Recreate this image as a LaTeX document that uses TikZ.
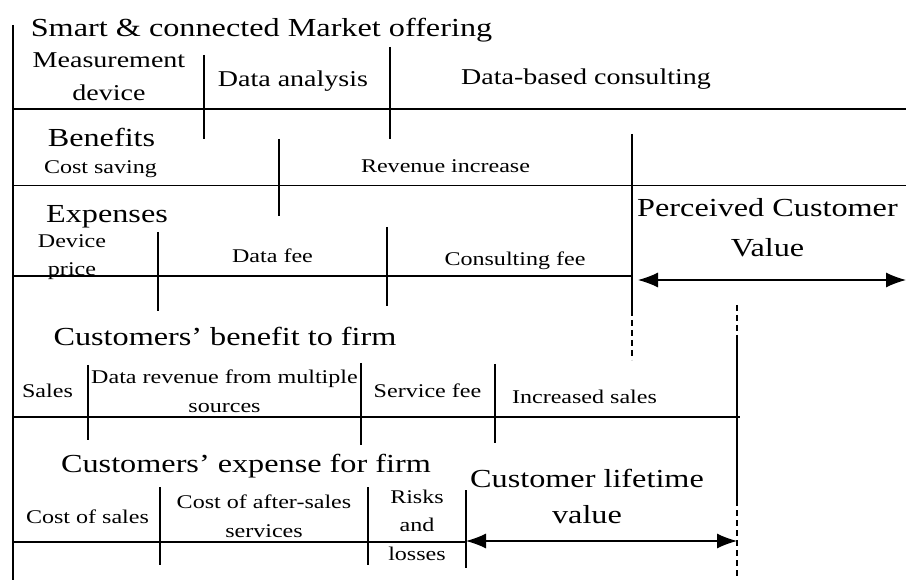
\documentclass[tikz,border=0pt]{standalone}
\usepackage{fontspec}
\setmainfont{Liberation Serif}[FakeStretch=1.24]
\usepackage{tikz}
\usetikzlibrary{arrows.meta}

\tikzset{
	bigtxt/.style={font=\fontsize{26}{36}\selectfont, inner sep=0, anchor=base, align=center},
	midtxt/.style={font=\fontsize{22.6}{33}\selectfont, inner sep=0, anchor=base, align=center},
	smalltxt/.style={font=\fontsize{19.4}{28.5}\selectfont, inner sep=0, anchor=base, align=center},
	dsh/.style={dash pattern=on 6pt off 4pt},
	dblarrow/.style={{Latex[length=20pt,width=15pt]}-{Latex[length=20pt,width=15pt]}}
}

\begin{document}
\begin{tikzpicture}[x=10pt, y=-10pt, line width=1.2pt]

	\useasboundingbox (0,0) rectangle (90.6,58);

	% frame
	\draw (1.3,2.5) -- (1.3,58);
	\draw (1.3,10.9) -- (90.6,10.9);
	\draw (1.3,18.55) -- (90.6,18.55);
	\draw (1.3,27.6) -- (63.2,27.6);
	\draw (1.3,41.7) -- (74,41.7);
	\draw (1.3,54.2) -- (46.6,54.2);

	% dividers
	\draw (20.4,5.5) -- (20.4,13.9);
	\draw (39,4.7) -- (39,13.9);
	\draw (27.9,13.9) -- (27.9,21.6);
	\draw (15.8,23.2) -- (15.8,31.1);
	\draw (38.7,22.7) -- (38.7,30.6);
	\draw (8.8,36.5) -- (8.8,44);
	\draw (36.1,36.3) -- (36.1,44.5);
	\draw (49.5,36.4) -- (49.5,44.3);
	\draw (16,48.7) -- (16,56.5);
	\draw (36.8,48.7) -- (36.8,56.5);
	\draw (46.6,49) -- (46.6,56.8);

	\draw (63.2,13.4) -- (63.2,31);
	\draw[dsh] (63.2,31) -- (63.2,36);
	\draw[dsh] (73.7,30.5) -- (73.7,34);
	\draw (73.7,34) -- (73.7,50);
	\draw[dsh] (73.7,50) -- (73.7,58);

	% texts (multi-line ones sit on their last baseline)
	\node[bigtxt] (offer) at (26.15,3.7) {Smart \& connected Market offering};
	\node[midtxt] (device) at (10.9,10.1) {Measurement\\device};
	\node[midtxt] (analysis) at (29.3,8.7) {Data analysis};
	\node[midtxt] (consult) at (58.6,8.5) {Data-based consulting};

	\node[bigtxt] (benefits) at (10.15,14.7) {Benefits};
	\node[smalltxt] (saving) at (10.05,17.4) {Cost saving};
	\node[smalltxt] (revenue) at (44.55,17.3) {Revenue increase};

	\node[bigtxt] (expenses) at (10.7,22.3) {Expenses};
	\node[smalltxt] (price) at (7.2,27.6) {Device\\price};
	\node[smalltxt] (datafee) at (27.25,26.3) {Data fee};
	\node[smalltxt] (consfee) at (51.5,26.6) {Consulting fee};
	\node[bigtxt, font=\fontsize{26}{40}\selectfont] (pcv) at (76.75,25.7) {Perceived Customer\\Value};

	\node[bigtxt] (cbenefit) at (22.5,34.5) {Customers' benefit to firm};
	\node[smalltxt] (sales) at (4.75,39.8) {Sales};
	\node[smalltxt] (datarev) at (22.45,41.2) {Data revenue from multiple\\sources};
	\node[smalltxt] (servfee) at (42.75,39.8) {Service fee};
	\node[smalltxt] (incsales) at (58.45,40.3) {Increased sales};

	\node[bigtxt] (cexpense) at (24.6,47.2) {Customers' expense for firm};
	\node[smalltxt] (costsales) at (8.75,52.3) {Cost of sales};
	\node[smalltxt] (aftersales) at (26.4,53.7) {Cost of after-sales\\services};
	\node[smalltxt] (risks) at (41.7,56) {Risks\\and\\losses};
	\node[bigtxt] (clv) at (58.7,52.3) {Customer lifetime\\value};

	% value arrows
	\coordinate (pcv-l) at (63.8,28);
	\coordinate (pcv-r) at (90.6,28);
	\coordinate (clv-l) at (46.6,54.1);
	\coordinate (clv-r) at (73.7,54.1);
	\draw[dblarrow] (pcv-l) -- (pcv-r);
	\draw[dblarrow] (clv-l) -- (clv-r);

\end{tikzpicture}
\end{document}
